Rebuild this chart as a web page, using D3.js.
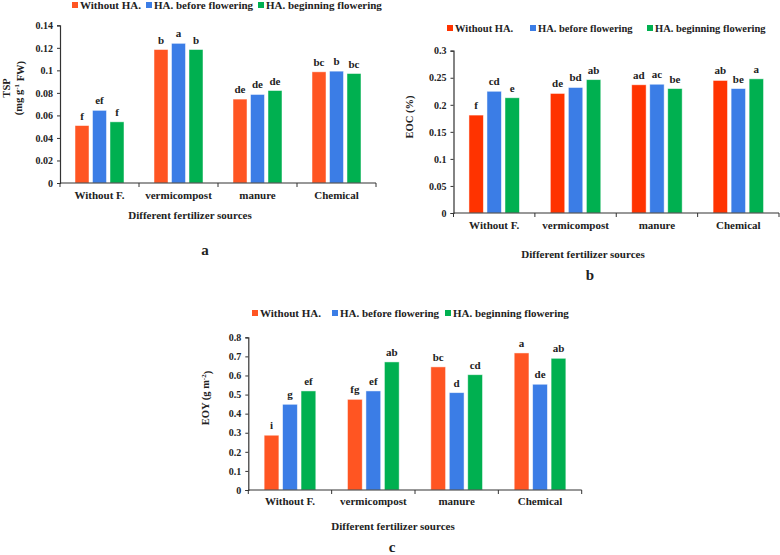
<!DOCTYPE html>
<html>
<head>
<meta charset="utf-8">
<script src="https://cdn.jsdelivr.net/npm/d3@7/dist/d3.min.js"></script>
<style>
  html, body { margin: 0; padding: 0; background: #fff; }
  svg { display: block; }
  text { font-family: "Liberation Serif", "Times New Roman", serif; font-weight: bold; fill: #222; }
</style>
</head>
<body>
<svg id="chart" width="780" height="555"></svg>
<script>
// ---------------- DATA ----------------
const categories = ["Without F.", "vermicompost", "manure", "Chemical"];
const seriesNames = ["Without HA.", "HA. before flowering", "HA. beginning flowering"];

// Panel a: TSP (mg g-1 FW)
const tspWithoutHA = [0.051, 0.1185, 0.0745, 0.0987];
const tspBeforeFlowering = [0.0645, 0.124, 0.0786, 0.0993];
const tspBeginningFlowering = [0.0543, 0.1185, 0.0821, 0.0972];
const tspLettersWithoutHA = ["f", "b", "de", "bc"];
const tspLettersBefore = ["ef", "a", "de", "b"];
const tspLettersBeginning = ["f", "b", "de", "bc"];
const tspTicks = [0, 0.02, 0.04, 0.06, 0.08, 0.1, 0.12, 0.14];

// Panel b: EOC (%)
const eocWithoutHA = [0.181, 0.221, 0.237, 0.245];
const eocBeforeFlowering = [0.225, 0.232, 0.238, 0.230];
const eocBeginningFlowering = [0.213, 0.2465, 0.230, 0.248];
const eocLettersWithoutHA = ["f", "de", "ad", "ab"];
const eocLettersBefore = ["cd", "bd", "ac", "be"];
const eocLettersBeginning = ["e", "ab", "be", "a"];
const eocTicks = [0, 0.05, 0.1, 0.15, 0.2, 0.25, 0.3];

// Panel c: EOY (g m-2)
const eoyWithoutHA = [0.287, 0.475, 0.645, 0.718];
const eoyBeforeFlowering = [0.449, 0.519, 0.510, 0.554];
const eoyBeginningFlowering = [0.519, 0.671, 0.604, 0.690];
const eoyLettersWithoutHA = ["i", "fg", "bc", "a"];
const eoyLettersBefore = ["g", "ef", "d", "de"];
const eoyLettersBeginning = ["ef", "ab", "cd", "ab"];
const eoyTicks = [0, 0.1, 0.2, 0.3, 0.4, 0.5, 0.6, 0.7, 0.8];

// ---------------- DRAW ----------------
const svg = d3.select("#chart");
const fmt = v => (v === 0 ? "0" : String(+v.toFixed(3)));

function drawPanel(p) {
  const g = svg.append("g");
  const x0 = d3.scaleBand().domain(categories).range(p.xRange).paddingInner(0).paddingOuter(0);
  const groupW = x0.bandwidth() * 0.62;
  const x1 = d3.scaleBand().domain(seriesNames).range([0, groupW]).paddingInner(0.2).paddingOuter(0);
  const y = d3.scaleLinear().domain([0, p.ticks[p.ticks.length - 1]]).range(p.yRange);

  const series = seriesNames.map((name, i) => ({
    name, values: p.values[i], letters: p.letters[i], color: p.colors[i]
  }));

  // bars
  series.forEach(s => {
    const sg = g.append("g");
    sg.selectAll("rect").data(categories).join("rect")
      .attr("x", c => x0(c) + (x0.bandwidth() - groupW) / 2 + x1(s.name))
      .attr("y", (c, i) => y(s.values[i]))
      .attr("width", x1.bandwidth())
      .attr("height", (c, i) => y(0) - y(s.values[i]))
      .attr("fill", s.color)
      .attr("stroke", "#ffffff")
      .attr("stroke-opacity", 0.6)
      .attr("stroke-width", 0.8);
    sg.selectAll("text").data(categories).join("text")
      .attr("x", c => x0(c) + (x0.bandwidth() - groupW) / 2 + x1(s.name) + x1.bandwidth() / 2)
      .attr("y", (c, i) => y(s.values[i]) - 6)
      .attr("text-anchor", "middle")
      .attr("font-size", p.letterSize)
      .text((c, i) => s.letters[i]);
  });

  // y axis
  const yAxis = d3.axisLeft(y).tickValues(p.ticks).tickFormat(fmt).tickSize(3).tickPadding(4);
  const ya = g.append("g").attr("transform", `translate(${p.xRange[0]},0)`).call(yAxis);
  ya.select(".domain").attr("stroke", "#333").attr("stroke-width", 1.2);
  ya.selectAll(".tick line").attr("stroke", "#333");
  ya.selectAll(".tick text").attr("font-size", p.tickSize).attr("font-family", "Liberation Serif").attr("font-weight", "bold").attr("fill", "#222");

  // x axis with ticks at band boundaries
  const xa = g.append("g");
  xa.append("line")
    .attr("x1", p.xRange[0]).attr("x2", p.xRange[1])
    .attr("y1", y(0)).attr("y2", y(0))
    .attr("stroke", "#333").attr("stroke-width", 1.2);
  const bounds = categories.map(c => x0(c)).concat([x0(categories[categories.length - 1]) + x0.bandwidth()]);
  xa.selectAll("line.b").data(bounds).join("line").attr("class", "b")
    .attr("x1", d => d).attr("x2", d => d)
    .attr("y1", y(0)).attr("y2", y(0) + 4)
    .attr("stroke", "#333");
  xa.selectAll("text").data(categories).join("text")
    .attr("x", c => x0(c) + x0.bandwidth() / 2)
    .attr("y", p.catY)
    .attr("dy", "0.35em")
    .attr("text-anchor", "middle")
    .attr("font-size", p.catSize)
    .text(c => c);

  // axis titles
  const yt = g.append("text")
    .attr("transform", `translate(${p.yTitle.x},${p.yTitle.y}) rotate(-90)`)
    .attr("text-anchor", "middle")
    .attr("font-size", p.yTitle.size);
  p.yTitle.build(yt);

  const xt = g.append("text")
    .attr("x", p.xTitle.x).attr("y", p.xTitle.y)
    .attr("dy", "0.35em")
    .attr("text-anchor", "middle")
    .attr("font-size", p.xTitle.size)
    .text("Different fertilizer sources");
  if (p.xTitle.sans) {
    xt.attr("font-family", "'Open Sans', 'Noto Sans', sans-serif").attr("font-weight", "normal");
  }

  // panel label
  g.append("text")
    .attr("x", p.label.x).attr("y", p.label.y)
    .attr("dy", "0.35em")
    .attr("text-anchor", "middle")
    .attr("font-size", 15)
    .text(p.label.text);

  // legend
  const lg = g.append("g");
  seriesNames.forEach((name, i) => {
    const lx = p.legend.xs[i];
    lg.append("rect")
      .attr("x", lx).attr("y", p.legend.y - 3)
      .attr("width", 6).attr("height", 6)
      .attr("fill", p.colors[i]);
    lg.append("text")
      .attr("x", lx + 8).attr("y", p.legend.y)
      .attr("dy", "0.35em")
      .attr("font-size", p.legend.size)
      .text(name);
  });
}

const blue = "#3b7de6";
const green = "#00b050";

drawPanel({
  values: [tspWithoutHA, tspBeforeFlowering, tspBeginningFlowering],
  letters: [tspLettersWithoutHA, tspLettersBefore, tspLettersBeginning],
  ticks: tspTicks,
  colors: ["#ff5522", blue, green],
  xRange: [60, 376], yRange: [183, 25.3],
  catY: 195, catSize: 11, tickSize: 10, letterSize: 11,
  yTitle: {
    x: 10, y: 88, size: 10.5,
    build: t => {
      t.append("tspan").attr("x", 0).attr("dy", 0).text("TSP");
      t.append("tspan").attr("x", 0).attr("dy", 12).text("(mg g");
      t.append("tspan").attr("font-size", 7).attr("dy", "-0.45em").text("-1");
      t.append("tspan").attr("dy", "0.45em").attr("font-size", 10.5).text(" FW)");
    }
  },
  xTitle: { x: 190, y: 215, size: 11 },
  label: { x: 205, y: 250, text: "a" },
  legend: { y: 5, xs: [72, 146, 258], size: 11 }
});

drawPanel({
  values: [eocWithoutHA, eocBeforeFlowering, eocBeginningFlowering],
  letters: [eocLettersWithoutHA, eocLettersBefore, eocLettersBeginning],
  ticks: eocTicks,
  colors: ["#ff3300", blue, green],
  xRange: [453.5, 779], yRange: [213, 50.7],
  catY: 225, catSize: 11, tickSize: 10, letterSize: 11,
  yTitle: {
    x: 413, y: 117, size: 10.5,
    build: t => { t.text("EOC (%)"); }
  },
  xTitle: { x: 583, y: 254, size: 11 },
  label: { x: 590, y: 275, text: "b" },
  legend: { y: 28, xs: [447, 530, 647], size: 10.5 }
});

drawPanel({
  values: [eoyWithoutHA, eoyBeforeFlowering, eoyBeginningFlowering],
  letters: [eoyLettersWithoutHA, eoyLettersBefore, eoyLettersBeginning],
  ticks: eoyTicks,
  colors: ["#ff5522", blue, green],
  xRange: [248.3, 581.7], yRange: [490, 337.3],
  catY: 501, catSize: 11, tickSize: 10, letterSize: 11,
  yTitle: {
    x: 209, y: 398, size: 10.5,
    build: t => {
      t.append("tspan").text("EOY (g m");
      t.append("tspan").attr("font-size", 7).attr("dy", "-0.45em").text("-2");
      t.append("tspan").attr("dy", "0.45em").attr("font-size", 10.5).text(")");
    }
  },
  xTitle: { x: 393, y: 526, size: 11, sans: true },
  label: { x: 392, y: 547, text: "c" },
  legend: { y: 313, xs: [252, 332, 445], size: 11 }
});
</script>
</body>
</html>
